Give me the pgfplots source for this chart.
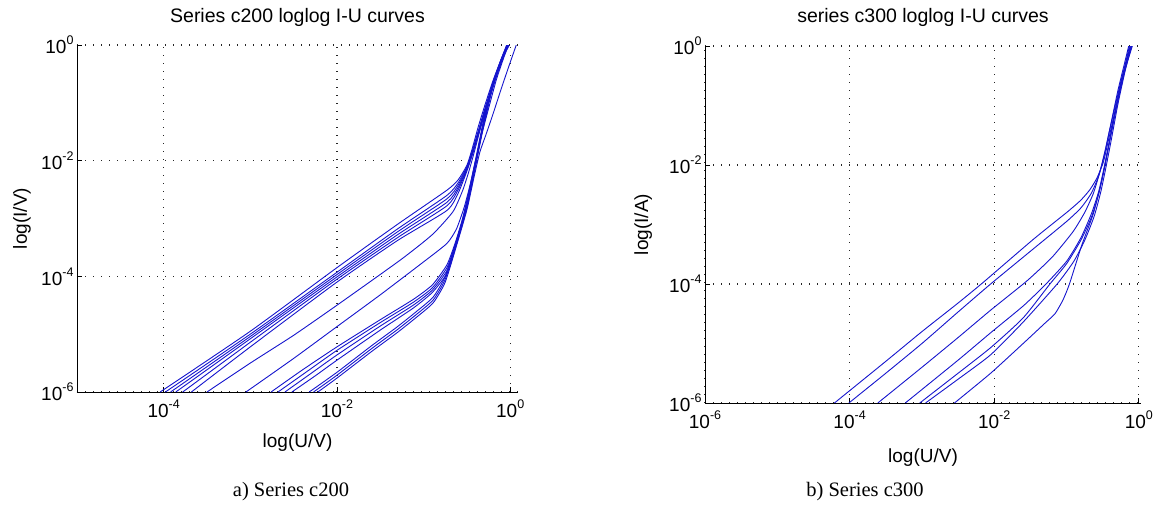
\documentclass[border=0pt]{standalone}
\usepackage{fontspec}
\setmainfont{Liberation Sans}
\newfontfamily\timesfont{Liberation Serif}
\usepackage{pgfplots}
\pgfplotsset{compat=1.18}
\definecolor{mblue}{RGB}{20,20,205}
\newcommand{\tp}[1]{10\raisebox{0.9ex}{\fontsize{12.5}{13}\selectfont #1}}
\pgfplotsset{
 mstyle/.style={
  scale only axis, anchor=south west,
  axis x line*=bottom, axis y line*=left,
  axis line style={-, line width=0.9pt, black},
  tick align=inside, major tick length=5pt, tick style={black, line width=0.8pt},
  grid=major, major grid style={black!85, line width=1.2pt, dash pattern=on 1.2pt off 6.8pt},
  ymin=-6, ymax=0, ytick={-6,-4,-2,0}, yticklabels={\tp{-6},\tp{-4},\tp{-2},\tp{0}},
  tick label style={font=\fontsize{19}{21}\selectfont},
  xticklabel style={yshift=-4pt},
  label style={font=\fontsize{19}{21}\selectfont},
  title style={font=\fontsize{19.5}{21}\selectfont},
  clip=true,
 },
 cv/.style={mblue, line width=0.9pt, line join=round, mark=none, smooth, tension=0.35},
}
\begin{document}
\begin{tikzpicture}
\path[use as bounding box] (0pt,0pt) rectangle (1158pt,522pt);
\begin{axis}[mstyle, at={(77pt,130pt)}, width=441pt, height=347pt,
  xmin=-5, xmax=0.09, xtick={-4,-2,0}, xticklabels={\tp{-4},\tp{-2},\tp{0}},
  title={Series c200 loglog I-U curves},
  title style={at={(axis description cs:0.5,1.063)}, anchor=center},
  xlabel={log(U/V)}, xlabel style={at={(axis description cs:0.5,-0.147)}, anchor=center},
  ylabel={log(I/V)}, ylabel style={at={(axis description cs:-0.125,0.5)}, anchor=center}]
\addplot[cv] coordinates {(-4.04,-6) (-3,-4.95) (-2,-3.85) (-1.3,-3.1) (-0.73,-2.51) (-0.6,-2.33) (-0.5,-2.08) (-0.44,-1.8) (-0.37,-1.42) (-0.29,-1.03) (-0.19,-0.58) (-0.09,-0.2) (-0.03,0)};
\addplot[cv] coordinates {(-3.98,-6) (-3,-5.0) (-2,-3.93) (-1.3,-3.18) (-0.73,-2.6) (-0.6,-2.38) (-0.5,-2.1) (-0.43,-1.82) (-0.35,-1.42) (-0.27,-1.02) (-0.17,-0.56) (-0.08,-0.18) (-0.02,0)};
\addplot[cv] coordinates {(-3.92,-6) (-3,-5.04) (-2,-3.97) (-1.3,-3.23) (-0.73,-2.66) (-0.6,-2.42) (-0.5,-2.12) (-0.44,-1.84) (-0.36,-1.44) (-0.28,-1.04) (-0.18,-0.58) (-0.09,-0.2) (-0.04,0)};
\addplot[cv] coordinates {(-3.86,-6) (-3,-5.08) (-2,-4.01) (-1.3,-3.28) (-0.73,-2.72) (-0.6,-2.46) (-0.5,-2.14) (-0.43,-1.84) (-0.35,-1.44) (-0.27,-1.03) (-0.17,-0.57) (-0.08,-0.19) (-0.03,0)};
\addplot[cv] coordinates {(-3.78,-6) (-3,-5.14) (-2,-4.05) (-1.3,-3.33) (-0.73,-2.78) (-0.6,-2.5) (-0.5,-2.16) (-0.43,-1.86) (-0.36,-1.48) (-0.28,-1.06) (-0.18,-0.6) (-0.08,-0.2) (-0.02,0)};
\addplot[cv] coordinates {(-3.68,-6) (-3,-5.22) (-2,-4.1) (-1.3,-3.38) (-0.73,-2.86) (-0.6,-2.56) (-0.5,-2.18) (-0.43,-1.86) (-0.35,-1.46) (-0.27,-1.04) (-0.17,-0.58) (-0.07,-0.18) (-0.01,0)};
\addplot[cv] coordinates {(-3.5,-6) (-3,-5.5) (-2.5,-5.02) (-2,-4.5) (-1.27,-3.72) (-0.9,-3.28) (-0.66,-2.88) (-0.55,-2.52) (-0.48,-2.2) (-0.42,-1.88) (-0.35,-1.48) (-0.27,-1.06) (-0.17,-0.58) (-0.08,-0.2) (-0.02,0)};
\addplot[cv] coordinates {(-3.05,-6) (-2.5,-5.42) (-2,-4.87) (-1.5,-4.32) (-1.0,-3.75) (-0.73,-3.43) (-0.62,-3.18) (-0.53,-2.8) (-0.46,-2.4) (-0.4,-2.0) (-0.33,-1.55) (-0.25,-1.1) (-0.16,-0.6) (-0.07,-0.2) (-0.02,0)};
\addplot[cv] coordinates {(-2.76,-6) (-2.4,-5.62) (-2,-5.22) (-1.5,-4.75) (-1.12,-4.4) (-0.9,-4.15) (-0.73,-3.8) (-0.63,-3.4) (-0.55,-3.0) (-0.48,-2.55) (-0.4,-1.98) (-0.3,-1.25) (-0.2,-0.65) (-0.1,-0.23) (-0.03,0)};
\addplot[cv] coordinates {(-2.68,-6) (-2.35,-5.65) (-2,-5.28) (-1.5,-4.8) (-1.12,-4.45) (-0.9,-4.2) (-0.73,-3.85) (-0.63,-3.43) (-0.55,-3.02) (-0.47,-2.52) (-0.39,-1.95) (-0.29,-1.22) (-0.19,-0.62) (-0.09,-0.21) (-0.02,0)};
\addplot[cv] coordinates {(-2.6,-6) (-2.3,-5.68) (-2,-5.36) (-1.5,-4.86) (-1.12,-4.5) (-0.9,-4.24) (-0.73,-3.9) (-0.63,-3.47) (-0.55,-3.05) (-0.47,-2.55) (-0.39,-1.97) (-0.3,-1.28) (-0.2,-0.68) (-0.1,-0.25) (-0.03,0)};
\addplot[cv] coordinates {(-2.52,-6) (-2.25,-5.72) (-2,-5.45) (-1.5,-4.93) (-1.12,-4.55) (-0.9,-4.28) (-0.73,-3.95) (-0.63,-3.5) (-0.54,-3.03) (-0.46,-2.5) (-0.38,-1.92) (-0.29,-1.25) (-0.19,-0.64) (-0.09,-0.22) (-0.02,0)};
\addplot[cv] coordinates {(-2.32,-6) (-2,-5.66) (-1.6,-5.2) (-1.31,-4.88) (-1.1,-4.63) (-0.89,-4.36) (-0.75,-4.0) (-0.61,-3.33) (-0.5,-2.8) (-0.42,-2.2) (-0.33,-1.5) (-0.23,-0.85) (-0.13,-0.35) (-0.04,0)};
\addplot[cv] coordinates {(-2.27,-6) (-2,-5.71) (-1.6,-5.25) (-1.31,-4.93) (-1.1,-4.68) (-0.89,-4.41) (-0.75,-4.05) (-0.61,-3.37) (-0.5,-2.82) (-0.41,-2.18) (-0.32,-1.5) (-0.22,-0.85) (-0.12,-0.35) (-0.03,0)};
\addplot[cv] coordinates {(-2.22,-6) (-2,-5.76) (-1.6,-5.3) (-1.31,-4.98) (-1.1,-4.73) (-0.89,-4.46) (-0.75,-4.1) (-0.61,-3.42) (-0.5,-2.85) (-0.42,-2.3) (-0.35,-1.85) (-0.28,-1.55) (-0.2,-1.2) (-0.1,-0.74) (0,-0.3) (0.07,0)};
\end{axis}
\begin{axis}[mstyle, at={(705pt,119pt)}, width=436pt, height=357pt,
  xmin=-6, xmax=0.03, xtick={-6,-4,-2,0}, xticklabels={\tp{-6},\tp{-4},\tp{-2},\tp{0}},
  title={series c300 loglog I-U curves},
  title style={at={(axis description cs:0.5,1.064)}, anchor=center},
  xlabel={log(U/V)}, xlabel style={at={(axis description cs:0.5,-0.154)}, anchor=center},
  ylabel={log(I/A)}, ylabel style={at={(axis description cs:-0.142,0.5)}, anchor=center}]
\addplot[cv] coordinates {(-4.21,-6) (-3.5,-5.3) (-3,-4.8) (-2.5,-4.32) (-2.15,-3.97) (-1.46,-3.25) (-1.0,-2.8) (-0.81,-2.6) (-0.68,-2.42) (-0.58,-2.22) (-0.49,-1.95) (-0.42,-1.58) (-0.34,-1.15) (-0.25,-0.65) (-0.17,-0.25) (-0.12,0)};
\addplot[cv] coordinates {(-4.01,-6) (-3.5,-5.5) (-3,-5.0) (-2.5,-4.47) (-2.05,-4.0) (-1.5,-3.45) (-1.0,-2.95) (-0.8,-2.72) (-0.66,-2.48) (-0.56,-2.2) (-0.48,-1.85) (-0.41,-1.45) (-0.33,-1.02) (-0.24,-0.55) (-0.15,-0.18) (-0.1,0)};
\addplot[cv] coordinates {(-3.61,-6) (-3,-5.4) (-2.5,-4.9) (-2.05,-4.44) (-1.55,-3.95) (-1.2,-3.55) (-0.91,-3.12) (-0.75,-2.8) (-0.63,-2.48) (-0.54,-2.12) (-0.46,-1.72) (-0.38,-1.27) (-0.29,-0.75) (-0.2,-0.3) (-0.14,0)};
\addplot[cv] coordinates {(-3.23,-6) (-2.5,-5.28) (-2.05,-4.82) (-1.6,-4.37) (-1.3,-4.02) (-1.0,-3.62) (-0.8,-3.22) (-0.65,-2.8) (-0.55,-2.42) (-0.47,-1.98) (-0.4,-1.55) (-0.31,-0.98) (-0.21,-0.42) (-0.13,0)};
\addplot[cv] coordinates {(-3.03,-6) (-2.5,-5.5) (-2.05,-5.07) (-1.6,-4.57) (-1.23,-4.0) (-1.0,-3.66) (-0.8,-3.26) (-0.65,-2.86) (-0.55,-2.46) (-0.47,-2.02) (-0.39,-1.52) (-0.3,-0.95) (-0.2,-0.4) (-0.11,0)};
\addplot[cv] coordinates {(-2.95,-6) (-2.5,-5.6) (-2.05,-5.19) (-1.6,-4.64) (-1.13,-4.0) (-0.9,-3.62) (-0.75,-3.27) (-0.62,-2.87) (-0.53,-2.47) (-0.46,-2.07) (-0.38,-1.57) (-0.29,-0.98) (-0.19,-0.42) (-0.1,0)};
\addplot[cv] coordinates {(-2.55,-6) (-2.05,-5.5) (-1.6,-5.0) (-1.3,-4.66) (-1.16,-4.5) (-1.05,-4.27) (-0.96,-4.0) (-0.79,-3.35) (-0.63,-2.82) (-0.51,-2.25) (-0.41,-1.63) (-0.3,-0.98) (-0.19,-0.4) (-0.09,0)};
\end{axis}
\node[font=\timesfont\fontsize{20.5}{22}\selectfont] at (291pt,30pt) {a) Series c200};
\node[font=\timesfont\fontsize{20.5}{22}\selectfont] at (865pt,30pt) {b) Series c300};
\end{tikzpicture}
\end{document}
